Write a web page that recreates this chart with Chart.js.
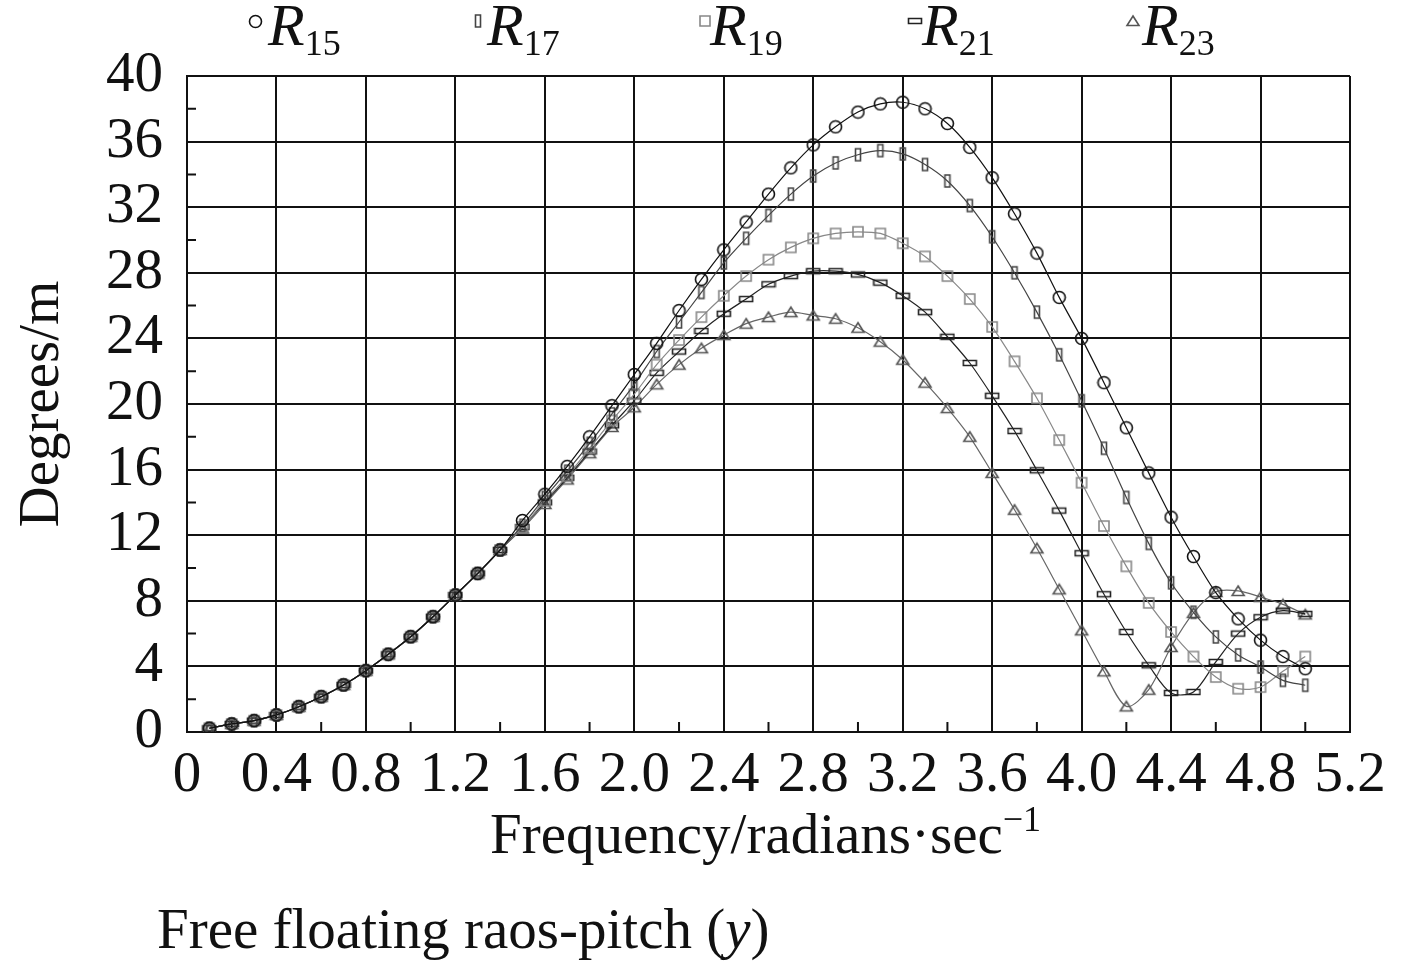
<!DOCTYPE html>
<html>
<head>
<meta charset="utf-8">
<script src="https://cdn.jsdelivr.net/npm/chart.js@4.4.0/dist/chart.umd.min.js"></script>
<style>
  html, body { margin: 0; padding: 0; background: #fff; }
  body { width: 1417px; height: 964px; position: relative; overflow: hidden;
         font-family: "Liberation Serif", "Times New Roman", serif; color: #111; }
  #wrap { position: absolute; left: 0; top: 0; width: 1417px; height: 964px; }
  .txt { position: absolute; white-space: nowrap; font-size: 57px; line-height: 57px; }
  .leg { position: absolute; top: -5px; font-size: 60px; line-height: 60px; white-space: nowrap; }
  .leg i { font-style: italic; }
  .leg sub { font-size: 36px; vertical-align: -10px; line-height: 0; }
  .mk { position: absolute; }
</style>
</head>
<body>
<div id="wrap"><canvas id="raoChart" width="1417" height="964"></canvas></div>
<div id="legend"></div>
<div class="txt" style="left:490px; top:805px">Frequency/radians·sec<sup style="font-size:36px; vertical-align:22px; line-height:0">−1</sup></div>
<div class="txt" style="left:157px; top:900px">Free floating raos-pitch (<i>y</i>)</div>
<script>
// frequency (rad/s) and RAO values
const freq = [0.1, 0.2, 0.3, 0.4, 0.5, 0.6, 0.7, 0.8, 0.9, 1.0,
              1.1, 1.2, 1.3, 1.4, 1.5, 1.6, 1.7, 1.8, 1.9, 2.0,
              2.1, 2.2, 2.3, 2.4, 2.5, 2.6, 2.7, 2.8, 2.9, 3.0,
              3.1, 3.2, 3.3, 3.4, 3.5, 3.6, 3.7, 3.8, 3.9, 4.0,
              4.1, 4.2, 4.3, 4.4, 4.5, 4.6, 4.7, 4.8, 4.9, 5.0];

const r15 = [0.23, 0.49, 0.69, 1.04, 1.54, 2.15, 2.87, 3.74, 4.74, 5.81,
             7.03, 8.35, 9.67, 11.1, 12.9, 14.5, 16.2, 18.0, 19.9, 21.8,
             23.7, 25.7, 27.6, 29.4, 31.1, 32.8, 34.4, 35.8, 36.9, 37.8,
             38.3, 38.4, 38.0, 37.1, 35.65, 33.8, 31.6, 29.2, 26.5, 24.0,
             21.3, 18.55, 15.8, 13.1, 10.7, 8.5, 6.9, 5.6, 4.6, 3.86];
const r17 = [0.23, 0.49, 0.69, 1.04, 1.54, 2.15, 2.87, 3.74, 4.74, 5.81,
             7.03, 8.35, 9.67, 11.1, 12.6, 14.3, 15.9, 17.6, 19.4, 21.2,
             23.2, 25.0, 26.8, 28.6, 30.1, 31.5, 32.8, 33.9, 34.7, 35.2,
             35.45, 35.25, 34.6, 33.6, 32.1, 30.2, 28.0, 25.6, 23.0, 20.2,
             17.3, 14.3, 11.5, 9.1, 7.3, 5.8, 4.7, 3.96, 3.15, 2.85];
const r19 = [0.23, 0.49, 0.69, 1.04, 1.54, 2.15, 2.87, 3.74, 4.74, 5.81,
             7.03, 8.35, 9.67, 11.1, 12.5, 14.1, 15.6, 17.3, 19.0, 20.6,
             22.4, 23.9, 25.3, 26.6, 27.8, 28.8, 29.55, 30.1, 30.4, 30.5,
             30.4, 29.8, 29.0, 27.8, 26.4, 24.7, 22.6, 20.35, 17.8, 15.2,
             12.56, 10.1, 7.87, 6.1, 4.6, 3.35, 2.64, 2.74, 3.7, 4.6];
const r21 = [0.23, 0.49, 0.69, 1.04, 1.54, 2.15, 2.87, 3.74, 4.74, 5.81,
             7.03, 8.35, 9.67, 11.1, 12.5, 14.0, 15.5, 17.1, 18.7, 20.2,
             21.9, 23.2, 24.45, 25.5, 26.4, 27.3, 27.8, 28.1, 28.1, 27.9,
             27.4, 26.6, 25.6, 24.1, 22.5, 20.5, 18.35, 15.96, 13.5, 10.9,
             8.4, 6.1, 4.07, 2.38, 2.44, 4.27, 6.0, 7.0, 7.4, 7.2];
const r23 = [0.23, 0.49, 0.69, 1.04, 1.54, 2.15, 2.87, 3.74, 4.74, 5.81,
             7.03, 8.35, 9.67, 11.1, 12.4, 13.9, 15.4, 17.0, 18.6, 19.8,
             21.2, 22.4, 23.4, 24.2, 24.9, 25.3, 25.6, 25.4, 25.2, 24.65,
             23.8, 22.7, 21.3, 19.75, 18.0, 15.8, 13.55, 11.2, 8.7, 6.2,
             3.7, 1.56, 2.58, 5.18, 7.26, 8.54, 8.6, 8.23, 7.78, 7.17];

const seriesNames = ['15', '17', '19', '21', '23'];
const xTicks = [0, 0.4, 0.8, 1.2, 1.6, 2.0, 2.4, 2.8, 3.2, 3.6, 4.0, 4.4, 4.8, 5.2];
const yTicks = [0, 4, 8, 12, 16, 20, 24, 28, 32, 36, 40];
const xMinor = [0.2, 0.6, 1.0, 1.4, 1.8, 2.2, 2.6, 3.0, 3.4, 3.8, 4.2, 4.6, 5.0];
const yMinor = [2, 6, 10, 14, 18, 22, 26, 30, 34, 38];

// marker canvases (used for the points and for the legend)
function makeMarker(w, h, color, draw) {
    const c = document.createElement('canvas');
    c.width = w; c.height = h;
    const g = c.getContext('2d');
    g.strokeStyle = color;
    g.lineWidth = 1.6;
    g.beginPath();
    draw(g);
    g.stroke();
    return c;
}
const markers = [
    makeMarker(15, 15, '#111', g => g.arc(7.5, 7.5, 6, 0, Math.PI * 2)),
    makeMarker(10, 16, '#444', g => g.rect(2.5, 2, 5, 12)),
    makeMarker(14, 14, '#888', g => g.rect(2, 2, 10, 10)),
    makeMarker(16, 10, '#222', g => g.rect(1.5, 2.5, 13, 5)),
    makeMarker(16, 14, '#555', g => { g.moveTo(8, 2); g.lineTo(14, 11.5); g.lineTo(2, 11.5); g.closePath(); })
];
const lineColors = ['#111', '#444', '#888', '#222', '#666'];

function toPoints(vals) {
    return freq.map((f, i) => ({ x: f, y: vals[i] }));
}
const allSeries = [r15, r17, r19, r21, r23];

const datasets = allSeries.map((vals, i) => ({
    label: 'R' + seriesNames[i],
    data: toPoints(vals),
    borderColor: lineColors[i],
    borderWidth: 1.2,
    pointStyle: markers[i],
    pointRadius: 6,
    tension: 0.3,
    fill: false
}));

// small inward ticks between grid lines
const minorTicks = {
    id: 'minorTicks',
    beforeDatasetsDraw(chart) {
        const { ctx, chartArea, scales: { x, y } } = chart;
        ctx.save();
        ctx.strokeStyle = '#111';
        ctx.lineWidth = 2;
        ctx.beginPath();
        xMinor.forEach(v => {
            const px = x.getPixelForValue(v);
            ctx.moveTo(px, chartArea.bottom);
            ctx.lineTo(px, chartArea.bottom - 10);
        });
        yMinor.forEach(v => {
            const py = y.getPixelForValue(v);
            ctx.moveTo(chartArea.left, py);
            ctx.lineTo(chartArea.left + 9, py);
        });
        ctx.stroke();
        ctx.restore();
    }
};

const serif = 'Liberation Serif';

new Chart(document.getElementById('raoChart'), {
    type: 'line',
    data: { datasets: datasets },
    options: {
        responsive: false,
        animation: false,
        layout: { padding: { top: 76, right: 67, left: 0, bottom: 0 } },
        plugins: { legend: { display: false }, tooltip: { enabled: false } },
        scales: {
            x: {
                type: 'linear',
                min: 0,
                max: 5.2,
                afterBuildTicks: scale => { scale.ticks = xTicks.map(v => ({ value: v })); },
                afterFit: scale => { scale.height = 232; },
                grid: { color: '#111', lineWidth: 2, drawTicks: false },
                border: { color: '#111', width: 2 },
                ticks: {
                    color: '#111',
                    padding: 10,
                    maxRotation: 0,
                    autoSkip: false,
                    font: { family: serif, size: 57 },
                    callback: v => v === 0 ? '0' : v.toFixed(1)
                }
            },
            y: {
                min: 0,
                max: 40,
                afterBuildTicks: scale => { scale.ticks = yTicks.map(v => ({ value: v })); },
                afterFit: scale => { scale.width = 187; },
                grid: { color: '#111', lineWidth: 2, drawTicks: false },
                border: { color: '#111', width: 2 },
                ticks: {
                    color: '#111',
                    padding: 24,
                    autoSkip: false,
                    font: { family: serif, size: 57, lineHeight: 1 }
                },
                title: {
                    display: true,
                    text: 'Degrees/m',
                    color: '#111',
                    padding: { top: 9 },
                    font: { family: serif, size: 57 }
                }
            }
        }
    },
    plugins: [minorTicks]
});

// legend on top: marker + italic R with subscript
const legendPos = [
    { mx: 255, tx: 268 },
    { mx: 478, tx: 487 },
    { mx: 705, tx: 710 },
    { mx: 915, tx: 922 },
    { mx: 1133, tx: 1142 }
];
const legendBox = document.getElementById('legend');
legendPos.forEach((p, i) => {
    const m = markers[i];
    const img = document.createElement('canvas');
    img.width = m.width; img.height = m.height;
    img.getContext('2d').drawImage(m, 0, 0);
    img.className = 'mk';
    img.style.left = (p.mx - m.width / 2) + 'px';
    img.style.top = (21 - m.height / 2) + 'px';
    legendBox.appendChild(img);

    const t = document.createElement('div');
    t.className = 'leg';
    t.style.left = p.tx + 'px';
    t.innerHTML = '<i>R</i><sub>' + seriesNames[i] + '</sub>';
    legendBox.appendChild(t);
});
</script>
</body>
</html>
